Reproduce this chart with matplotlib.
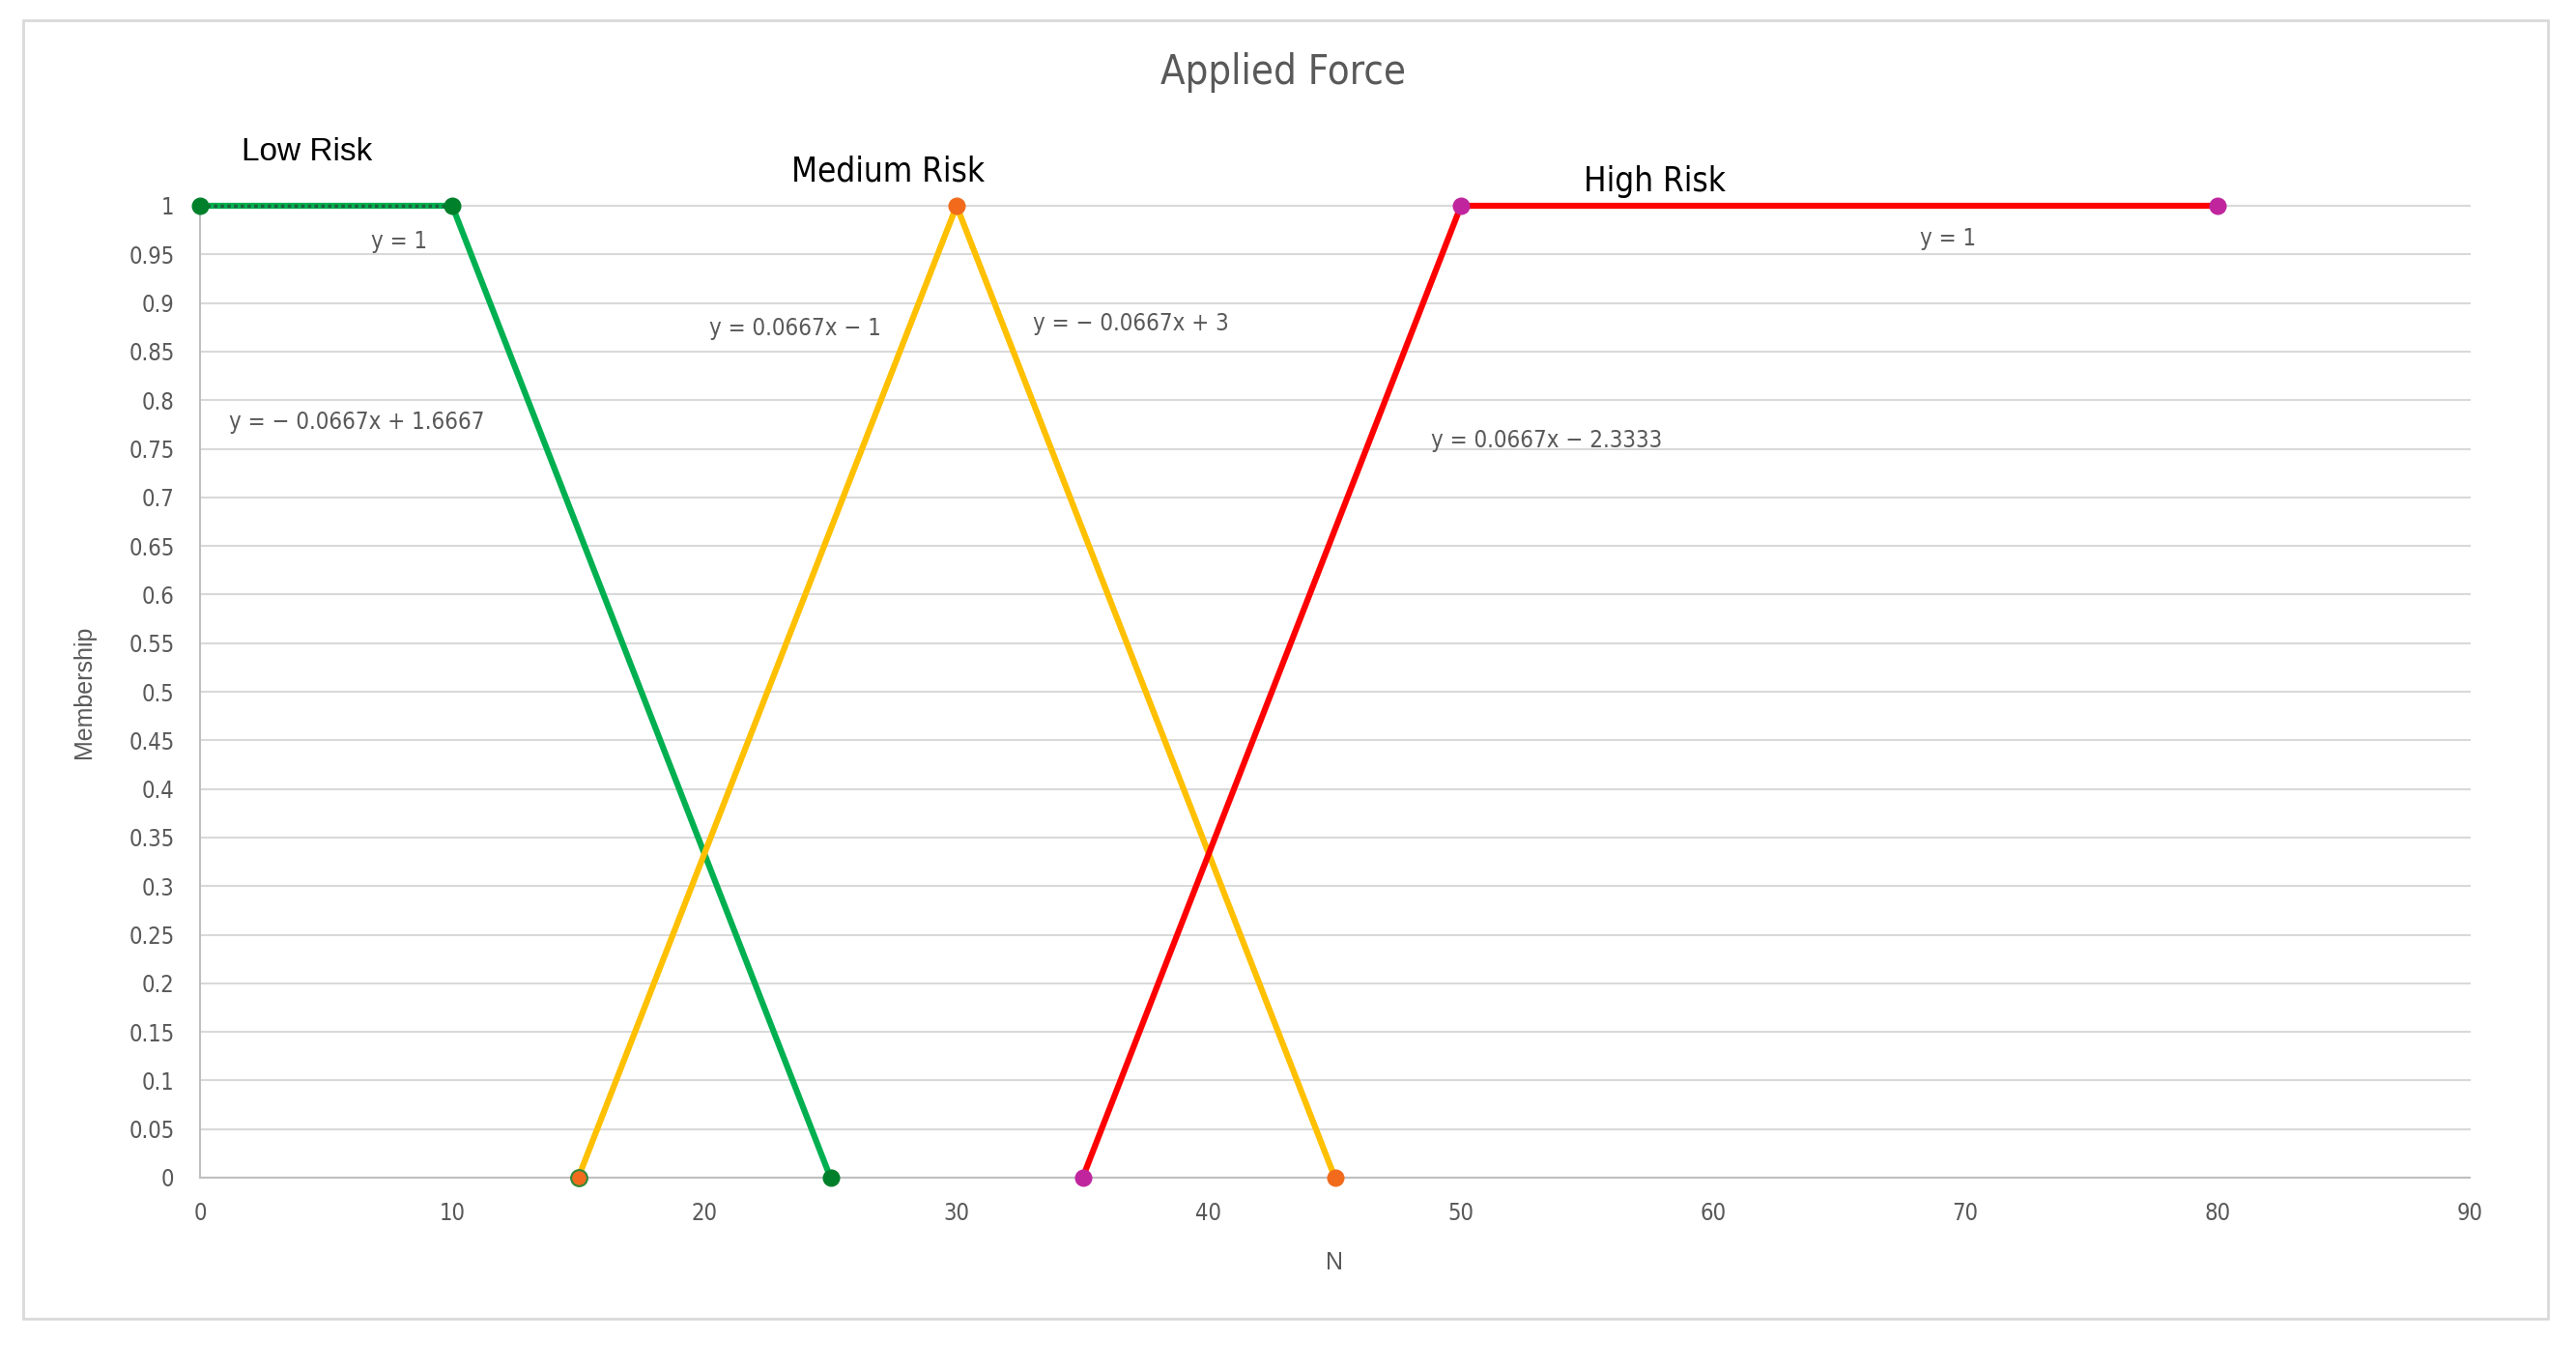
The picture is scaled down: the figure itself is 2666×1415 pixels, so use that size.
import matplotlib.pyplot as plt
import numpy as np
from matplotlib.patches import Rectangle

# membership function points
low_x = [0, 10, 25]
low_y = [1, 1, 0]
med_x = [15, 30, 45]
med_y = [0, 1, 0]
high_x = [35, 50, 80]
high_y = [0, 1, 1]

# trendline equations (as shown on the chart)
eq_text = ['y = 1', 'y = \u2212 0.0667x + 1.6667', 'y = 0.0667x \u2212 1',
           'y = \u2212 0.0667x + 3', 'y = 0.0667x \u2212 2.3333', 'y = 1']
eq_pos = [(7.9, 0.963), (6.2, 0.777), (23.6, 0.874), (36.9, 0.879), (53.4, 0.758), (69.3, 0.966)]

set_names = ['Low Risk', 'Medium Risk', 'High Risk']
set_pos = [(4.25, 1.055), (27.3, 1.035), (57.7, 1.025)]

x_ticks = np.arange(0, 91, 10)
y_ticks = np.arange(0, 1.0001, 0.05)
y_labels = ['0'] + ['%g' % round(v, 2) for v in y_ticks[1:]]

narrow = ['DejaVu Sans']
gray = '#595959'

fig = plt.figure(figsize=(26.66, 14.15), dpi=100)
fig.patches.append(Rectangle((24/2666, 1-1365/1415), (2637-24)/2666, (1365-21)/1415,
                             transform=fig.transFigure, fill=False, edgecolor='#d9d9d9', lw=2))
ax = fig.add_axes([207/2666, 1-1219/1415, (2556-207)/2666, (1219-213)/1415])

ax.set_xlim(0, 90)
ax.set_ylim(0, 1)
ax.set_xticks(x_ticks)
ax.set_yticks(y_ticks)
ax.set_yticklabels(y_labels)
ax.grid(axis='y', color='#d9d9d9', lw=1.5, clip_on=False)
ax.set_axisbelow(True)
for s in ['top', 'right']:
    ax.spines[s].set_visible(False)
for s in ['left', 'bottom']:
    ax.spines[s].set_color('#bfbfbf')
    ax.spines[s].set_linewidth(1.5)
ax.tick_params(axis='y', length=0, colors=gray, pad=19)
ax.tick_params(axis='x', length=0, colors=gray, pad=18)
for lab in ax.get_xticklabels() + ax.get_yticklabels():
    lab.set_family(narrow)
    lab.set_stretch('condensed')
    lab.set_fontsize(17)

# lines
ax.plot(low_x, low_y, color='#00b050', lw=4.5, zorder=3, clip_on=False)
ax.plot(low_x[:2], low_y[:2], color='#1f5f3a', lw=2.5, ls=(0, (1, 1)), zorder=4, clip_on=False)
ax.plot(med_x, med_y, color='#ffc000', lw=4.5, zorder=3, clip_on=False)
ax.plot(high_x, high_y, color='#ff0000', lw=4.5, zorder=3, clip_on=False)

# markers
ax.plot(low_x, low_y, 'o', color='#00802b', ms=12, zorder=5, clip_on=False)
ax.plot(med_x, med_y, 'o', mfc='#f26b1d', mec='#f26b1d', ms=12, zorder=5, clip_on=False)
ax.plot(med_x[0], med_y[0], 'o', mfc='#f26b1d', mec='#2e8b3a', mew=1.5, ms=12, zorder=6, clip_on=False)
ax.plot(high_x, high_y, 'o', color='#c0259e', ms=12, zorder=5, clip_on=False)

for t, (x, y) in zip(eq_text, eq_pos):
    ax.text(x, y, t, color=gray, fontsize=17.2, ha='center', va='center', family=narrow,
            stretch='condensed')

ax.text(set_pos[0][0], set_pos[0][1], set_names[0], fontsize=24, ha='center', va='center',
        family=['Liberation Sans', 'DejaVu Sans'], clip_on=False)
for name, (x, y) in zip(set_names[1:], set_pos[1:]):
    ax.text(x, y, name, fontsize=25, ha='center', va='center', family=narrow,
            stretch='condensed', clip_on=False)

fig.text(1328/2666, 1-75/1415, 'Applied Force', color=gray, fontsize=30, ha='center', va='center',
         family=narrow, stretch='condensed')
fig.text(87/2666, 1-716/1415, 'Membership', color=gray, fontsize=18, rotation=90,
         ha='center', va='center', family=['Liberation Sans', 'DejaVu Sans'])
fig.text(1381/2666, 1-1307/1415, 'N', color=gray, fontsize=18, ha='center', va='center',
         family=['Liberation Sans', 'DejaVu Sans'])

fig.savefig('out.png', dpi=100, facecolor='white')
